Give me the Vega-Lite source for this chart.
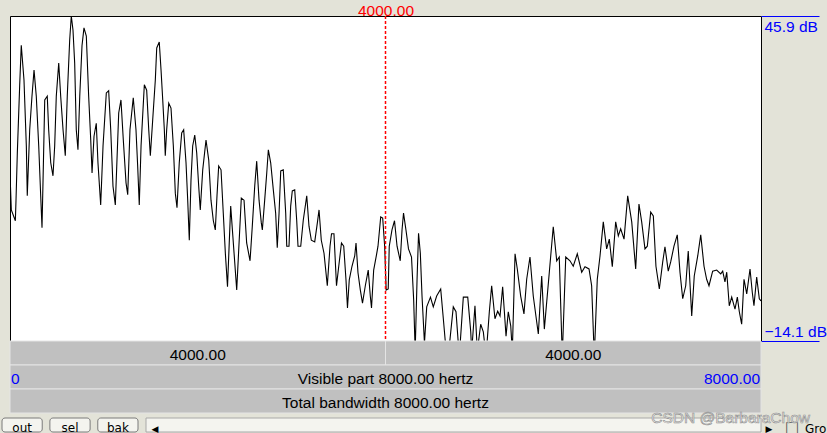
{
  "$schema": "https://vega.github.io/schema/vega-lite/v6.json",
  "background": "#e3e3d8",
  "padding": {"left": 1, "top": 2, "right": 0, "bottom": 0},
  "spacing": 0,
  "bounds": "flush",
  "config": {
    "font": "Liberation Sans",
    "view": {"stroke": null},
    "text": {"font": "Liberation Sans"}
  },
  "vconcat": [
    {
      "width": 751,
      "height": 325,
      "view": {"fill": "white", "stroke": "black", "strokeWidth": 1},
      "layer": [
        {
          "data": {"values": [
            {"f":0,"db":16.9},{"f":14,"db":10.1},{"f":57,"db":8.1},{"f":64,"db":11.9},{"f":78,"db":20.6},{"f":103,"db":33.0},{"f":120,"db":40.5},{"f":149,"db":34.1},{"f":174,"db":21.9},{"f":184,"db":12.7},{"f":210,"db":24.9},{"f":234,"db":31.1},{"f":256,"db":35.9},{"f":280,"db":31.1},{"f":306,"db":21.9},{"f":327,"db":12.7},{"f":341,"db":6.8},{"f":352,"db":15.6},{"f":370,"db":30.4},{"f":397,"db":31.1},{"f":412,"db":24.9},{"f":434,"db":18.8},{"f":458,"db":16.4},{"f":476,"db":21.9},{"f":493,"db":31.1},{"f":519,"db":37.2},{"f":540,"db":31.1},{"f":565,"db":24.9},{"f":589,"db":20.1},{"f":610,"db":31.1},{"f":636,"db":41.5},{"f":653,"db":45.9},{"f":671,"db":43.3},{"f":689,"db":37.2},{"f":706,"db":24.9},{"f":724,"db":21.2},{"f":743,"db":31.1},{"f":767,"db":40.4},{"f":788,"db":43.7},{"f":813,"db":42.2},{"f":838,"db":31.1},{"f":860,"db":23.0},{"f":874,"db":16.9},{"f":895,"db":23.7},{"f":919,"db":26.1},{"f":937,"db":18.8},{"f":966,"db":11.0},{"f":991,"db":21.9},{"f":1026,"db":31.7},{"f":1051,"db":32.1},{"f":1073,"db":24.9},{"f":1097,"db":14.5},{"f":1122,"db":11.0},{"f":1158,"db":28.0},{"f":1182,"db":30.4},{"f":1207,"db":23.0},{"f":1236,"db":15.1},{"f":1254,"db":12.9},{"f":1278,"db":24.9},{"f":1313,"db":30.8},{"f":1342,"db":24.9},{"f":1360,"db":18.2},{"f":1377,"db":11.0},{"f":1396,"db":21.9},{"f":1431,"db":33.2},{"f":1456,"db":32.2},{"f":1478,"db":24.9},{"f":1495,"db":20.1},{"f":1520,"db":26.7},{"f":1548,"db":34.1},{"f":1563,"db":40.0},{"f":1590,"db":41.1},{"f":1609,"db":35.9},{"f":1627,"db":30.4},{"f":1644,"db":24.9},{"f":1654,"db":20.1},{"f":1669,"db":24.9},{"f":1691,"db":29.8},{"f":1715,"db":28.9},{"f":1740,"db":21.9},{"f":1761,"db":13.2},{"f":1779,"db":10.5},{"f":1803,"db":18.8},{"f":1829,"db":24.3},{"f":1850,"db":24.9},{"f":1875,"db":18.8},{"f":1893,"db":11.9},{"f":1910,"db":4.5},{"f":1928,"db":15.6},{"f":1946,"db":21.9},{"f":1968,"db":23.9},{"f":1989,"db":20.6},{"f":2010,"db":14.5},{"f":2027,"db":10.1},{"f":2053,"db":17.5},{"f":2088,"db":23.0},{"f":2117,"db":19.3},{"f":2141,"db":11.9},{"f":2166,"db":8.1},{"f":2187,"db":6.4},{"f":2205,"db":12.7},{"f":2223,"db":18.2},{"f":2248,"db":17.5},{"f":2272,"db":9.5},{"f":2294,"db":2.1},{"f":2317,"db":-4.1},{"f":2351,"db":10.8},{"f":2415,"db":-4.7},{"f":2464,"db":12.3},{"f":2493,"db":11.9},{"f":2521,"db":4.0},{"f":2557,"db":0.7},{"f":2581,"db":7.1},{"f":2607,"db":14.5},{"f":2628,"db":19.1},{"f":2653,"db":11.9},{"f":2677,"db":7.7},{"f":2688,"db":6.4},{"f":2713,"db":11.9},{"f":2735,"db":16.9},{"f":2752,"db":21.2},{"f":2777,"db":18.8},{"f":2805,"db":13.8},{"f":2830,"db":9.5},{"f":2847,"db":3.1},{"f":2866,"db":9.5},{"f":2884,"db":17.3},{"f":2911,"db":17.5},{"f":2937,"db":9.5},{"f":2948,"db":3.4},{"f":2972,"db":3.4},{"f":2990,"db":10.8},{"f":3007,"db":13.6},{"f":3033,"db":13.8},{"f":3054,"db":8.2},{"f":3068,"db":3.4},{"f":3097,"db":3.4},{"f":3124,"db":8.2},{"f":3161,"db":12.7},{"f":3185,"db":7.1},{"f":3210,"db":4.5},{"f":3246,"db":4.2},{"f":3274,"db":7.7},{"f":3292,"db":10.1},{"f":3316,"db":4.5},{"f":3345,"db":2.1},{"f":3380,"db":-3.9},{"f":3409,"db":3.4},{"f":3425,"db":5.7},{"f":3451,"db":5.7},{"f":3478,"db":-3.9},{"f":3502,"db":-0.3},{"f":3531,"db":4.0},{"f":3555,"db":3.4},{"f":3579,"db":-2.8},{"f":3595,"db":-8.0},{"f":3614,"db":-2.8},{"f":3643,"db":-0.3},{"f":3672,"db":1.6},{"f":3686,"db":4.0},{"f":3707,"db":-1.5},{"f":3732,"db":-4.7},{"f":3755,"db":-7.1},{"f":3785,"db":-3.9},{"f":3816,"db":-1.0},{"f":3838,"db":-5.8},{"f":3851,"db":-8.0},{"f":3874,"db":-1.0},{"f":3902,"db":1.6},{"f":3920,"db":3.4},{"f":3949,"db":8.8},{"f":3970,"db":8.6},{"f":3991,"db":3.4},{"f":4007,"db":-4.7},{"f":4029,"db":-4.5},{"f":4040,"db":3.4},{"f":4069,"db":6.4},{"f":4096,"db":8.1},{"f":4123,"db":3.4},{"f":4157,"db":0.7},{"f":4176,"db":6.4},{"f":4192,"db":9.5},{"f":4218,"db":6.4},{"f":4245,"db":2.9},{"f":4277,"db":1.4},{"f":4300,"db":-6.5},{"f":4316,"db":-16},{"f":4336,"db":-2.8},{"f":4352,"db":5.8},{"f":4371,"db":2.1},{"f":4389,"db":-5.8},{"f":4415,"db":-14.5},{"f":4439,"db":-7.8},{"f":4479,"db":-6.0},{"f":4509,"db":-7.8},{"f":4545,"db":-5.8},{"f":4588,"db":-4.5},{"f":4616,"db":-10.0},{"f":4641,"db":-15},{"f":4680,"db":-15},{"f":4722,"db":-7.8},{"f":4751,"db":-8.7},{"f":4786,"db":-17},{"f":4829,"db":-6.0},{"f":4876,"db":-6.0},{"f":4908,"db":-12.4},{"f":4918,"db":-16},{"f":4953,"db":-7.6},{"f":4978,"db":-16},{"f":5014,"db":-11.0},{"f":5042,"db":-12.4},{"f":5071,"db":-17},{"f":5106,"db":-8.7},{"f":5131,"db":-3.9},{"f":5166,"db":-10.0},{"f":5195,"db":-8.6},{"f":5220,"db":-9.5},{"f":5248,"db":-4.1},{"f":5284,"db":-13.2},{"f":5308,"db":-8.7},{"f":5334,"db":-11.3},{"f":5351,"db":-16},{"f":5380,"db":2.0},{"f":5404,"db":-0.8},{"f":5440,"db":-5.8},{"f":5475,"db":-9.1},{"f":5504,"db":-2.7},{"f":5539,"db":1.4},{"f":5574,"db":-5.8},{"f":5628,"db":-12.8},{"f":5664,"db":-2.1},{"f":5692,"db":-11.9},{"f":5745,"db":-1.4},{"f":5787,"db":7.0},{"f":5824,"db":0.7},{"f":5851,"db":1.4},{"f":5883,"db":-17},{"f":5920,"db":1.4},{"f":5965,"db":0.7},{"f":6000,"db":-0.3},{"f":6043,"db":2.0},{"f":6090,"db":-1.4},{"f":6125,"db":-0.4},{"f":6168,"db":-0.8},{"f":6196,"db":-3.9},{"f":6224,"db":-17},{"f":6256,"db":-2.7},{"f":6285,"db":1.6},{"f":6320,"db":7.9},{"f":6356,"db":2.9},{"f":6384,"db":4.7},{"f":6416,"db":-0.4},{"f":6452,"db":7.9},{"f":6480,"db":5.3},{"f":6505,"db":6.6},{"f":6541,"db":4.7},{"f":6580,"db":12.7},{"f":6623,"db":7.9},{"f":6665,"db":-0.8},{"f":6700,"db":11.2},{"f":6729,"db":7.9},{"f":6764,"db":2.9},{"f":6789,"db":3.4},{"f":6825,"db":9.7},{"f":6853,"db":9.0},{"f":6881,"db":-0.3},{"f":6917,"db":-4.5},{"f":6953,"db":0.5},{"f":6977,"db":3.3},{"f":7012,"db":-1.2},{"f":7038,"db":0.5},{"f":7073,"db":3.4},{"f":7108,"db":5.5},{"f":7137,"db":-1.4},{"f":7166,"db":-6.3},{"f":7198,"db":-3.9},{"f":7225,"db":2.5},{"f":7262,"db":-9.5},{"f":7289,"db":-2.1},{"f":7326,"db":1.6},{"f":7358,"db":5.5},{"f":7393,"db":-0.3},{"f":7421,"db":-2.7},{"f":7446,"db":-3.9},{"f":7485,"db":-1.2},{"f":7528,"db":-1.0},{"f":7571,"db":-1.7},{"f":7592,"db":-1.2},{"f":7616,"db":-3.2},{"f":7635,"db":-1.4},{"f":7662,"db":-7.6},{"f":7688,"db":-6.0},{"f":7723,"db":-8.2},{"f":7748,"db":-6.0},{"f":7769,"db":-8.7},{"f":7794,"db":-11.0},{"f":7819,"db":-2.7},{"f":7848,"db":-5.4},{"f":7883,"db":-0.8},{"f":7907,"db":-5.1},{"f":7925,"db":-7.6},{"f":7954,"db":-2.3},{"f":7982,"db":-6.3},{"f":8000,"db":-6.7}
          ]},
          "mark": {"type": "line", "color": "black", "strokeWidth": 1.1, "clip": true},
          "encoding": {
            "x": {
              "field": "f", "type": "quantitative",
              "scale": {"domain": [0, 8000], "nice": false, "zero": false},
              "axis": {"orient": "top", "values": [4000], "format": ".2f", "labelColor": "red",
                       "ticks": false, "domain": false, "grid": false, "labelPadding": 1,
                       "labelFontSize": 15.5, "labelBaseline": "alphabetic", "title": null,
                       "labelFont": "Liberation Sans"}
            },
            "y": {
              "field": "db", "type": "quantitative",
              "scale": {"domain": [-14.1, 45.9], "nice": false, "zero": false},
              "axis": {"orient": "right", "values": [45.9, -14.1],
                       "labelExpr": "format(datum.value, '.1f') + ' dB'",
                       "labelColor": "blue", "tickColor": "blue", "tickSize": 58, "tickWidth": 1,
                       "labelPadding": -55, "labelFlush": false,
                       "labelBaseline": "alphabetic",
                       "labelOffset": {"condition": {"test": "datum.value > 0", "value": 15}, "value": -5},
                       "domain": false, "grid": false, "title": null,
                       "labelFontSize": 15.5, "labelFont": "Liberation Sans"}
            }
          }
        },
        {
          "data": {"values": [{"f": 4000}]},
          "mark": {"type": "rule", "stroke": "#ff0000", "strokeDash": [3, 2], "strokeWidth": 1.5, "opacity": 1},
          "encoding": {"x": {"field": "f", "type": "quantitative"}}
        }
      ]
    },
    {
      "width": 751,
      "height": 72,
      "layer": [
        {
          "data": {"values": [
            {"row": "r1", "start": 0, "end": 4000},
            {"row": "r1", "start": 4000, "end": 8000},
            {"row": "r2", "start": 0, "end": 8000},
            {"row": "r3", "start": 0, "end": 8000}
          ]},
          "mark": {"type": "rect", "color": "#c0c0c0", "stroke": "#e4e4e4", "strokeWidth": 1},
          "encoding": {
            "x": {"field": "start", "type": "quantitative", "scale": {"domain": [0, 8000], "nice": false, "zero": false}, "axis": null},
            "x2": {"field": "end"},
            "y": {"field": "row", "type": "ordinal", "scale": {"paddingInner": 0, "paddingOuter": 0}, "axis": null}
          }
        },
        {
          "data": {"values": [
            {"row": "r1", "f": 2000, "label": "4000.00", "kind": "center"},
            {"row": "r1", "f": 6000, "label": "4000.00", "kind": "center"},
            {"row": "r2", "f": 4000, "label": "Visible part 8000.00 hertz", "kind": "center"},
            {"row": "r3", "f": 4000, "label": "Total bandwidth 8000.00 hertz", "kind": "center"},
            {"row": "r2", "f": 0, "label": "0", "kind": "left"},
            {"row": "r2", "f": 8000, "label": "8000.00", "kind": "right"}
          ]},
          "layer": [
            {
              "transform": [{"filter": "datum.kind === 'center'"}],
              "mark": {"type": "text", "fontSize": 15.5, "color": "black", "baseline": "middle", "align": "center", "dy": 2},
              "encoding": {
                "x": {"field": "f", "type": "quantitative"},
                "y": {"field": "row", "type": "ordinal"},
                "text": {"field": "label"}
              }
            },
            {
              "transform": [{"filter": "datum.kind === 'left'"}],
              "mark": {"type": "text", "fontSize": 15.5, "color": "blue", "baseline": "middle", "align": "left", "dx": 1, "dy": 2},
              "encoding": {
                "x": {"field": "f", "type": "quantitative"},
                "y": {"field": "row", "type": "ordinal"},
                "text": {"field": "label"}
              }
            },
            {
              "transform": [{"filter": "datum.kind === 'right'"}],
              "mark": {"type": "text", "fontSize": 15.5, "color": "blue", "baseline": "middle", "align": "right", "dx": -1, "dy": 2},
              "encoding": {
                "x": {"field": "f", "type": "quantitative"},
                "y": {"field": "row", "type": "ordinal"},
                "text": {"field": "label"}
              }
            }
          ]
        }
      ]
    },
    {
      "spacing": 0,
      "bounds": "flush",
      "hconcat": [
        {
          "width": 136,
          "height": 19,
          "data": {"values": [{"b": "out"}, {"b": "sel"}, {"b": "bak"}]},
          "layer": [
            {
              "mark": {"type": "rect", "fill": "#f4f4ef", "stroke": "#7a7a7a", "strokeWidth": 1, "cornerRadius": 3, "xOffset": -8, "yOffset": 5},
              "encoding": {
                "x": {"field": "b", "type": "nominal", "sort": null, "scale": {"paddingInner": 0.16, "paddingOuter": 0}, "axis": null}
              }
            },
            {
              "mark": {"type": "text", "fontSize": 12, "color": "black", "xOffset": -8, "dy": 5, "font": "DejaVu Sans"},
              "encoding": {
                "x": {"field": "b", "type": "nominal", "sort": null},
                "text": {"field": "b"}
              }
            }
          ]
        },
        {
          "width": 615,
          "height": 19,
          "data": {"values": [{"track": "scroll"}]},
          "layer": [
            {
              "mark": {"type": "rect", "fill": "#f4f4ef", "stroke": "#a8a8a8", "strokeWidth": 1, "yOffset": 5},
              "encoding": {
                "x": {"datum": 0, "type": "quantitative", "scale": {"domain": [0, 1], "nice": false}, "axis": null},
                "x2": {"datum": 1}
              }
            },
            {
              "mark": {"type": "text", "text": "◀", "fontSize": 9, "color": "black", "align": "center", "dx": 9, "dy": 6, "font": "DejaVu Sans"},
              "encoding": {"x": {"datum": 0, "type": "quantitative"}}
            },
            {
              "mark": {"type": "text", "text": "▶", "fontSize": 9, "color": "black", "align": "center", "dx": 8, "dy": 6, "font": "DejaVu Sans"},
              "encoding": {"x": {"datum": 1, "type": "quantitative"}}
            },
            {
              "mark": {"type": "text", "text": "☐", "fontSize": 16, "color": "#555555", "align": "left", "dx": 24, "dy": 6, "font": "DejaVu Sans"},
              "encoding": {"x": {"datum": 1, "type": "quantitative"}}
            },
            {
              "mark": {"type": "text", "text": "Gro", "fontSize": 12, "color": "black", "align": "left", "dx": 44, "dy": 6, "font": "DejaVu Sans"},
              "encoding": {"x": {"datum": 1, "type": "quantitative"}}
            },
            {
              "mark": {"type": "text", "text": "CSDN @BarbaraChow", "fontSize": 15.5, "color": "#f2f2f2", "stroke": "#8c8c8c", "strokeWidth": 0.6, "align": "right", "dx": 49, "dy": -5},
              "encoding": {"x": {"datum": 1, "type": "quantitative"}}
            }
          ]
        }
      ]
    }
  ]
}
